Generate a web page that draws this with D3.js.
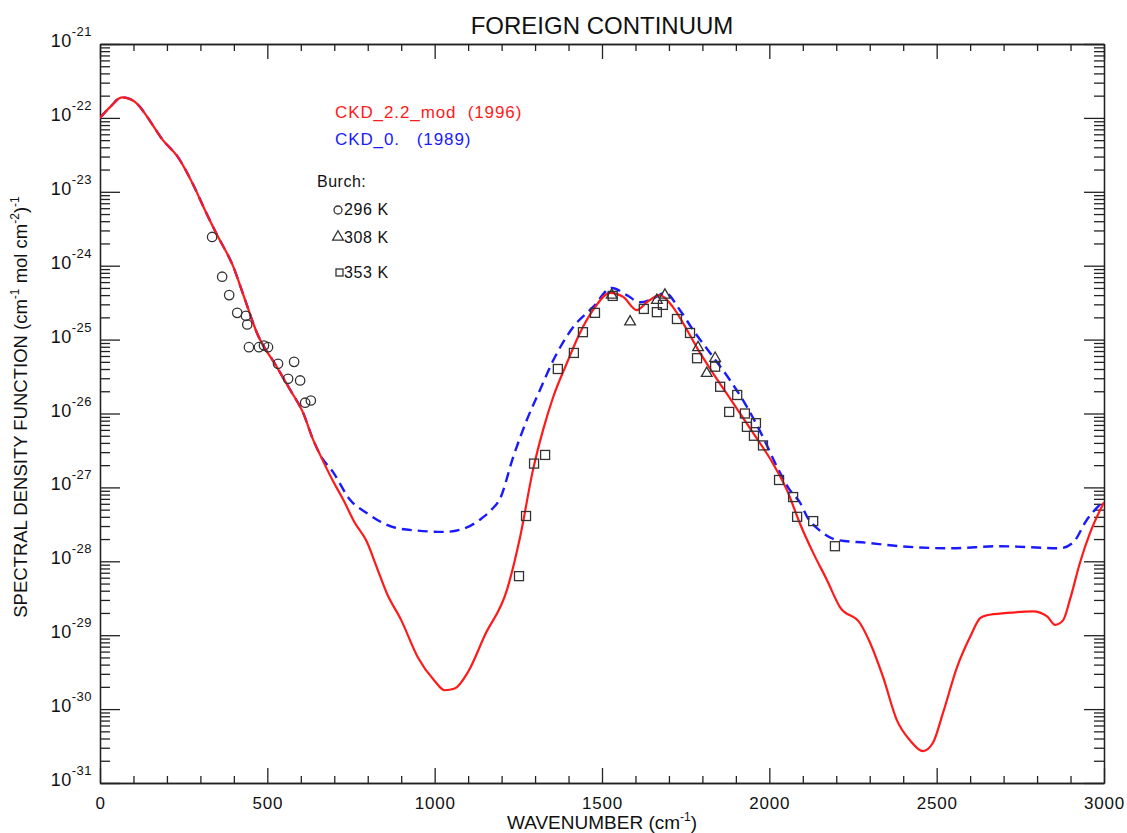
<!DOCTYPE html>
<html>
<head>
<meta charset="utf-8">
<script src="https://cdn.jsdelivr.net/npm/d3@7"></script>
<style>
  body { margin: 0; background: #fff; }
  svg text { font-family: "Liberation Sans", Arial, Helvetica, sans-serif; fill: #111; }
</style>
</head>
<body>
<svg id="chart" width="1127" height="833"></svg>
<script>
// ---------------- DATA ----------------
const title = "FOREIGN CONTINUUM";
const xTickValues = [0, 500, 1000, 1500, 2000, 2500, 3000];
const yTickExponents = [-31, -30, -29, -28, -27, -26, -25, -24, -23, -22, -21];

// CKD_2.2_mod (1996) : [wavenumber, value]
const ckd22Wavenumber = [0, 30, 65, 90, 120, 140, 188, 233, 278, 314, 350, 397, 433, 469, 528, 568, 607, 637, 657, 697, 727, 760, 797, 827, 857, 900, 950, 1000, 1030, 1060, 1100, 1150, 1216, 1255, 1294, 1324, 1354, 1395, 1434, 1473, 1524, 1563, 1604, 1634, 1673, 1712, 1754, 1793, 1832, 1892, 1951, 2011, 2053, 2092, 2131, 2172, 2211, 2271, 2301, 2340, 2381, 2420, 2459, 2489, 2519, 2561, 2600, 2630, 2650, 2710, 2788, 2830, 2854, 2878, 2898, 2928, 2958, 3000];
const ckd22Value = [1.0e-22, 1.4e-22, 1.9e-22, 1.8e-22, 1.4e-22, 1.05e-22, 5.0e-23, 2.95e-23, 1.26e-23, 5.6e-24, 2.6e-24, 1.0e-24, 3.5e-25, 1.23e-25, 4.3e-26, 2.1e-26, 1.02e-26, 4.4e-27, 2.8e-27, 1.2e-27, 6.8e-28, 3.4e-28, 1.85e-28, 8.3e-29, 3.7e-29, 1.6e-29, 5.0e-30, 2.4e-30, 1.8e-30, 1.9e-30, 3.2e-30, 1.0e-29, 4.1e-29, 2.1e-28, 1.74e-27, 6.0e-27, 1.66e-26, 4.8e-26, 1.23e-25, 2.5e-25, 4.3e-25, 3.8e-25, 2.5e-25, 3.2e-25, 4.0e-25, 2.75e-25, 1.35e-25, 6.6e-26, 3.5e-26, 1.38e-26, 5.5e-27, 2.1e-27, 9.1e-28, 3.2e-28, 1.3e-28, 5.6e-29, 2.4e-29, 1.45e-29, 7.9e-30, 2.7e-30, 7.1e-31, 3.8e-31, 2.7e-31, 3.5e-31, 8.9e-31, 3.7e-30, 9.5e-30, 1.7e-29, 1.86e-29, 2.0e-29, 2.1e-29, 1.8e-29, 1.38e-29, 1.6e-29, 3.0e-29, 9.5e-29, 2.4e-28, 6.3e-28];

// CKD_0. (1989)
const ckd0Wavenumber = [0, 30, 65, 90, 120, 140, 188, 233, 278, 314, 350, 397, 433, 469, 528, 568, 607, 637, 657, 697, 747, 797, 876, 950, 1030, 1105, 1140, 1170, 1195, 1235, 1275, 1315, 1354, 1414, 1473, 1529, 1574, 1614, 1653, 1688, 1733, 1772, 1823, 1883, 1933, 1981, 2023, 2062, 2092, 2113, 2151, 2201, 2291, 2390, 2540, 2689, 2868, 2908, 2948, 3000];
const ckd0Value = [1.0e-22, 1.4e-22, 1.9e-22, 1.8e-22, 1.4e-22, 1.05e-22, 5.0e-23, 2.95e-23, 1.26e-23, 5.6e-24, 2.6e-24, 1.0e-24, 3.5e-25, 1.23e-25, 4.3e-26, 2.1e-26, 1.02e-26, 4.4e-27, 2.8e-27, 1.6e-27, 6.8e-28, 4.5e-28, 2.9e-28, 2.6e-28, 2.5e-28, 3.0e-28, 3.8e-28, 5.0e-28, 7.0e-28, 2.6e-27, 8.1e-27, 2.1e-26, 5.2e-26, 1.48e-25, 2.75e-25, 5.0e-25, 4.0e-25, 3.2e-25, 3.6e-25, 4.3e-25, 2.5e-25, 1.35e-25, 6.6e-26, 2.8e-26, 1.23e-26, 4.8e-27, 1.9e-27, 9.1e-28, 6.2e-28, 4.0e-28, 2.6e-28, 1.95e-28, 1.78e-28, 1.6e-28, 1.5e-28, 1.6e-28, 1.5e-28, 1.8e-28, 3.6e-28, 6.6e-28];

// Burch measurements
const burch296Wavenumber = [335, 365, 386, 410, 436, 440, 445, 475, 490, 502, 532, 580, 562, 598, 613, 630];
const burch296Value = [2.45e-24, 7.1e-25, 4.0e-25, 2.3e-25, 2.1e-25, 1.6e-25, 7.9e-26, 7.9e-26, 8.3e-26, 7.9e-26, 4.7e-26, 5.0e-26, 2.95e-26, 2.8e-26, 1.4e-26, 1.5e-26];

const burch308Wavenumber = [1529, 1584, 1664, 1688, 1787, 1813, 1838];
const burch308Value = [4.0e-25, 1.74e-25, 3.4e-25, 4.0e-25, 7.8e-26, 3.5e-26, 5.6e-26];

const burch353Wavenumber = [1252, 1273, 1297, 1330, 1368, 1416, 1443, 1479, 1532, 1625, 1664, 1682, 1724, 1763, 1784, 1838, 1853, 1904, 1880, 1927, 1960, 1933, 1954, 1981, 2029, 2071, 2083, 2131, 2196];
const burch353Value = [6.3e-29, 4.1e-28, 2.1e-27, 2.75e-27, 4.0e-26, 6.6e-26, 1.26e-25, 2.3e-25, 3.9e-25, 2.6e-25, 2.35e-25, 2.95e-25, 1.9e-25, 1.23e-25, 5.6e-26, 4.3e-26, 2.3e-26, 1.78e-26, 1.05e-26, 1.0e-26, 7.4e-27, 6.6e-27, 5.0e-27, 3.7e-27, 1.26e-27, 7.4e-28, 4.0e-28, 3.5e-28, 1.6e-28];

// ---------------- CHART ----------------
const svg = d3.select("#chart");
const L = 100, R = 1104, T = 44, B = 783;

const x = d3.scaleLinear().domain([0, 3000]).range([L, R]);
const y = d3.scaleLog().domain([1e-31, 1e-21]).range([B, T]);

const zip = (a, b) => a.map((d, i) => [d, b[i]]);

// minor tick values
const xMinor = d3.range(0, 3001, 100).filter(v => v % 500 !== 0);
const yMinor = [];
yTickExponents.slice(0, -1).forEach(e => { for (let k = 2; k <= 9; k++) yMinor.push(k * Math.pow(10, e)); });
const yMajor = yTickExponents.map(e => Math.pow(10, e));

const axisColor = "#222";
function styleAxis(g) {
  g.selectAll("path.domain").attr("stroke", axisColor).attr("stroke-width", 1.3);
  g.selectAll(".tick line").attr("stroke", axisColor).attr("stroke-width", 1.3);
}

// bottom axis
svg.append("g").attr("transform", `translate(0,${B})`)
  .call(d3.axisBottom(x).tickValues(xTickValues).tickSizeInner(-15).tickSizeOuter(0).tickPadding(14).tickFormat(d3.format("d")))
  .call(g => g.selectAll("text").attr("font-size", 17).attr("letter-spacing", 0.8).attr("fill", "#111").attr("font-family", "Liberation Sans, Arial, sans-serif"))
  .call(styleAxis);
svg.append("g").attr("transform", `translate(0,${B})`)
  .call(d3.axisBottom(x).tickValues(xMinor).tickSizeInner(-7).tickSizeOuter(0).tickFormat(""))
  .call(styleAxis);
// top axis
svg.append("g").attr("transform", `translate(0,${T})`)
  .call(d3.axisTop(x).tickValues(xTickValues).tickSizeInner(-15).tickSizeOuter(0).tickFormat(""))
  .call(styleAxis);
svg.append("g").attr("transform", `translate(0,${T})`)
  .call(d3.axisTop(x).tickValues(xMinor).tickSizeInner(-7).tickSizeOuter(0).tickFormat(""))
  .call(styleAxis);
// left axis
svg.append("g").attr("transform", `translate(${L},0)`)
  .call(d3.axisLeft(y).tickValues(yMajor).tickSizeInner(-20).tickSizeOuter(0).tickFormat(""))
  .call(styleAxis);
svg.append("g").attr("transform", `translate(${L},0)`)
  .call(d3.axisLeft(y).tickValues(yMinor).tickSizeInner(-10).tickSizeOuter(0).tickFormat(""))
  .call(styleAxis);
// right axis
svg.append("g").attr("transform", `translate(${R},0)`)
  .call(d3.axisRight(y).tickValues(yMajor).tickSizeInner(-20).tickSizeOuter(0).tickFormat(""))
  .call(styleAxis);
svg.append("g").attr("transform", `translate(${R},0)`)
  .call(d3.axisRight(y).tickValues(yMinor).tickSizeInner(-10).tickSizeOuter(0).tickFormat(""))
  .call(styleAxis);

// y tick labels with superscript exponents
const yl = svg.append("g").selectAll("text").data(yTickExponents).join("text")
  .attr("x", 92).attr("y", e => y(Math.pow(10, e)) + 3)
  .attr("text-anchor", "end").attr("font-size", 18).attr("letter-spacing", 0.5);
yl.append("tspan").text("10");
yl.append("tspan").attr("dy", -11).attr("font-size", 13).text(e => String(e));

// clip
svg.append("clipPath").attr("id", "clip").append("rect")
  .attr("x", L).attr("y", T).attr("width", R - L).attr("height", B - T);

const line = d3.line().x(d => x(d[0])).y(d => y(d[1])).curve(d3.curveMonotoneX);

const plot = svg.append("g").attr("clip-path", "url(#clip)");

plot.append("path").datum(zip(ckd0Wavenumber, ckd0Value))
  .attr("d", line).attr("fill", "none").attr("stroke", "#1a1aff")
  .attr("stroke-width", 2.4).attr("stroke-dasharray", "10,6");

plot.append("path").datum(zip(ckd22Wavenumber, ckd22Value))
  .attr("d", line).attr("fill", "none").attr("stroke", "#ff1a1a")
  .attr("stroke-width", 2.2);

// markers
const mStroke = "#333", mW = 1.3;
plot.append("g").selectAll("circle").data(zip(burch296Wavenumber, burch296Value)).join("circle")
  .attr("cx", d => x(d[0])).attr("cy", d => y(d[1])).attr("r", 4.7)
  .attr("fill", "none").attr("stroke", mStroke).attr("stroke-width", mW);

const tri = d3.symbol().type(d3.symbolTriangle).size(50);
plot.append("g").selectAll("path").data(zip(burch308Wavenumber, burch308Value)).join("path")
  .attr("transform", d => `translate(${x(d[0])},${y(d[1])})`).attr("d", tri)
  .attr("fill", "none").attr("stroke", mStroke).attr("stroke-width", mW);

plot.append("g").selectAll("rect").data(zip(burch353Wavenumber, burch353Value)).join("rect")
  .attr("x", d => x(d[0]) - 4.5).attr("y", d => y(d[1]) - 4.5).attr("width", 9).attr("height", 9)
  .attr("fill", "none").attr("stroke", mStroke).attr("stroke-width", mW);

// title
svg.append("text").attr("x", (L + R) / 2).attr("y", 34).attr("text-anchor", "middle")
  .attr("font-size", 24).text(title);

// x axis label
const xl = svg.append("text").attr("x", (L + R) / 2).attr("y", 829).attr("text-anchor", "middle")
  .attr("font-size", 19);
xl.append("tspan").text("WAVENUMBER (cm");
xl.append("tspan").attr("dy", -8).attr("font-size", 12).text("-1");
xl.append("tspan").attr("dy", 8).text(")");

// y axis label
const ylab = svg.append("text").attr("transform", "translate(27,407) rotate(-90)")
  .attr("text-anchor", "middle").attr("font-size", 18.5);
ylab.append("tspan").text("SPECTRAL DENSITY FUNCTION (cm");
ylab.append("tspan").attr("dy", -8).attr("font-size", 12).text("-1");
ylab.append("tspan").attr("dy", 8).text(" mol cm");
ylab.append("tspan").attr("dy", -8).attr("font-size", 12).text("-2");
ylab.append("tspan").attr("dy", 8).text(")");
ylab.append("tspan").attr("dy", -8).attr("font-size", 12).text("-1");

// legend
const leg = svg.append("g");
leg.append("text").attr("x", 335).attr("y", 118).attr("font-size", 17).attr("letter-spacing", 0.9)
  .style("fill", "#ff1a1a").attr("xml:space", "preserve").text("CKD_2.2_mod  (1996)");
leg.append("text").attr("x", 335).attr("y", 145).attr("font-size", 17).attr("letter-spacing", 0.9)
  .style("fill", "#1a1aff").attr("xml:space", "preserve").text("CKD_0.   (1989)");
leg.append("text").attr("x", 317).attr("y", 187).attr("font-size", 16).attr("letter-spacing", 0.5).text("Burch:");
const legItems = [
  { label: "296 K", yy: 208, kind: "circle" },
  { label: "308 K", yy: 236, kind: "triangle" },
  { label: "353 K", yy: 271, kind: "square" }
];
legItems.forEach(it => {
  if (it.kind === "circle") {
    leg.append("circle").attr("cx", 338).attr("cy", it.yy + 2).attr("r", 4)
      .attr("fill", "none").attr("stroke", mStroke).attr("stroke-width", mW);
  } else if (it.kind === "triangle") {
    leg.append("path").attr("transform", `translate(338,${it.yy + 1})`).attr("d", tri)
      .attr("fill", "none").attr("stroke", mStroke).attr("stroke-width", mW);
  } else {
    leg.append("rect").attr("x", 336).attr("y", it.yy - 2).attr("width", 7).attr("height", 7)
      .attr("fill", "none").attr("stroke", mStroke).attr("stroke-width", mW);
  }
  leg.append("text").attr("x", 344).attr("y", it.yy + 7).attr("font-size", 16).attr("letter-spacing", 0.6).text(it.label);
});
</script>
</body>
</html>
